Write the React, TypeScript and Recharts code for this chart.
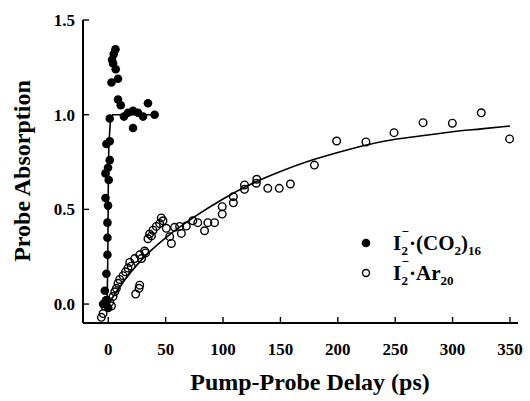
import {
  ComposedChart,
  Scatter,
  Line,
  XAxis,
  YAxis,
  Legend,
} from 'recharts';

// I2-(CO2)16 : filled circles [delay ps, absorption]
const co2Delay = [-4.5, -3, -2, 0, -1.6, -0.7, -0.7, -0.7, -0.2, -2.4, 0.4, -2.4, -0.2, 1.3, -1.6, 1.3, 1.3, 2.8, 3.3, 4.2, 4.8, 6.3, 6.5, 8.5, 8.5, 10.9, 13.7, 17.2, 21.6, 21.6, 25.9, 30.3, 34.6, 40.4];
const co2Abs = [0.0, 0.07, 0.02, -0.02, 0.16, 0.26, 0.35, 0.43, 0.52, 0.56, 0.655, 0.69, 0.72, 0.76, 0.845, 0.86, 0.98, 1.17, 1.29, 1.27, 1.32, 1.345, 1.24, 1.19, 1.08, 1.05, 0.99, 1.01, 1.02, 0.93, 1.01, 0.99, 1.06, 1.0];

// I2-Ar20 : open circles
const arDelay = [-6, -4.5, -3, -1, 1.3, 2.8, 4.2, 5.7, 7.1, 8.5, 10, 12.9, 15, 17.2, 18.7, 20, 23, 23.9, 26.8, 27.4, 27.4, 29, 31.7, 32.6, 34.6, 36, 37.6, 39, 41.9, 44.8, 46.2, 47.7, 50.6, 53.5, 55, 57.8, 62.2, 63.7, 68, 73.7, 78, 83.9, 86.8, 92.6, 99.3, 99.3, 109, 109, 118.7, 118.7, 129, 129.4, 139, 149, 158.7, 179.6, 199, 224.5, 249, 274.3, 299.8, 325, 349.7];
const arAbs = [-0.07, -0.05, -0.01, 0.02, 0.01, -0.01, 0.04, 0.065, 0.083, 0.11, 0.13, 0.15, 0.17, 0.19, 0.22, 0.2, 0.24, 0.053, 0.083, 0.1, 0.26, 0.24, 0.28, 0.27, 0.345, 0.37, 0.36, 0.39, 0.41, 0.425, 0.455, 0.44, 0.4, 0.356, 0.32, 0.405, 0.41, 0.373, 0.412, 0.44, 0.43, 0.387, 0.43, 0.43, 0.475, 0.514, 0.535, 0.567, 0.606, 0.629, 0.638, 0.659, 0.611, 0.611, 0.634, 0.734, 0.861, 0.856, 0.905, 0.958, 0.955, 1.01, 0.872];

// fitted curves
const co2FitDelay = [-1, -0.3, 0, 0.5, 2, 4, 40];
const co2FitAbs = [-0.02, 0.3, 0.6, 0.84, 0.98, 1.0, 1.0];
const arFitDelay = [0, 10, 20, 30, 50, 75, 100, 125, 150, 175, 200, 225, 250, 275, 300, 325, 350];
const arFitAbs = [0, 0.09, 0.17, 0.24, 0.35, 0.46, 0.555, 0.635, 0.7, 0.755, 0.8, 0.84, 0.87, 0.89, 0.91, 0.925, 0.94];

const xTicks = [0, 50, 100, 150, 200, 250, 300, 350];
const yTicks = [0, 0.5, 1.0, 1.5];

const zip = (xs: number[], ys: number[]) => xs.map((x, i) => ({ x, y: ys[i] }));

const co2Data = zip(co2Delay, co2Abs);
const arData = zip(arDelay, arAbs);
const co2Fit = zip(co2FitDelay, co2FitAbs);
const arFit = zip(arFitDelay, arFitAbs);

const FONT = 'Liberation Serif, serif';
const tickStyle = { fill: '#000', fontSize: 17, fontWeight: 'bold', fontFamily: FONT };

const FilledDot = (props: any) => <circle cx={props.cx} cy={props.cy} r={4.3} fill="#000" />;
const OpenDot = (props: any) => (
  <circle cx={props.cx} cy={props.cy} r={3.8} fill="#fff" fillOpacity={0} stroke="#000" strokeWidth={1.4} />
);

const NoTick = () => <g />;

const YTitle = () => (
  <text
    x={22}
    y={171}
    transform="rotate(-90 22 171)"
    textAnchor="middle"
    dominantBaseline="central"
    fontFamily={FONT}
    fontSize={24}
    fontWeight="bold"
    fill="#000"
  >
    Probe Absorption
  </text>
);

const XTitle = () => (
  <text
    x={310}
    y={382}
    textAnchor="middle"
    dominantBaseline="central"
    fontFamily={FONT}
    fontSize={24}
    fontWeight="bold"
    fill="#000"
  >
    Pump-Probe Delay (ps)
  </text>
);

// I2^- label drawn as svg text with stacked sub / superscript
const Formula = ({ y, rest, subs }: { y: number; rest: string[]; subs: boolean[] }) => {
  let dy = 0;
  return (
    <g fontFamily={FONT} fontWeight="bold" fill="#000">
      <text x={37} y={y} fontSize={21}>I</text>
      <text x={45.5} y={y + 5} fontSize={13}>2</text>
      <text x={45.5} y={y - 14} fontSize={13}>−</text>
      <text x={53} y={y} fontSize={21}>
        {rest.map((s, i) => {
          const target = subs[i] ? 5 : 0;
          const shift = target - dy;
          dy = target;
          return (
            <tspan key={i} dy={shift} fontSize={subs[i] ? 13 : 21}>
              {s}
            </tspan>
          );
        })}
      </text>
    </g>
  );
};

const LegendBox = () => (
  <svg width={170} height={72}>
    <circle cx={10} cy={23} r={4.3} fill="#000" />
    <Formula y={30} rest={['·(CO', '2', ')', '16']} subs={[false, true, false, true]} />
    <circle cx={10} cy={53} r={3.5} fill="none" stroke="#000" strokeWidth={1.4} />
    <Formula y={60} rest={['·Ar', '20']} subs={[false, true]} />
  </svg>
);

export default function App() {
  return (
    <div style={{ position: 'absolute', left: 0, top: 0, background: '#fff', fontFamily: FONT }}>
      <ComposedChart
        width={530}
        height={401}
        margin={{ top: 20, right: 12, bottom: 0, left: 0 }}
        style={{ fontFamily: FONT }}
      >
        <XAxis
          xAxisId="b"
          type="number"
          dataKey="x"
          domain={[-22, 357]}
          ticks={xTicks}
          allowDataOverflow
          height={78}
          axisLine={{ stroke: '#000', strokeWidth: 2 }}
          tickLine={{ stroke: '#000', strokeWidth: 1.4 }}
          tickSize={-6}
          tickMargin={26}
          tick={tickStyle}
          label={<XTitle />}
        />
        <XAxis
          xAxisId="t"
          orientation="top"
          type="number"
          dataKey="x"
          domain={[-22, 357]}
          ticks={xTicks}
          allowDataOverflow
          height={0}
          axisLine={{ stroke: '#000', strokeWidth: 2 }}
          tickLine={{ stroke: '#000', strokeWidth: 1.4 }}
          tickSize={-6}
          tick={NoTick}
        />
        <YAxis
          yAxisId="l"
          type="number"
          dataKey="y"
          domain={[-0.1, 1.5]}
          ticks={yTicks}
          allowDataOverflow
          width={83}
          axisLine={{ stroke: '#000', strokeWidth: 2 }}
          tickLine={{ stroke: '#000', strokeWidth: 1.4 }}
          tickSize={-6}
          tickMargin={14}
          tick={tickStyle}
          tickFormatter={(v: number) => v.toFixed(1)}
          label={<YTitle />}
        />
        <YAxis
          yAxisId="r"
          orientation="right"
          type="number"
          dataKey="y"
          domain={[-0.1, 1.5]}
          ticks={yTicks}
          allowDataOverflow
          width={0}
          axisLine={{ stroke: '#000', strokeWidth: 2 }}
          tickLine={{ stroke: '#000', strokeWidth: 1.4 }}
          tickSize={-6}
          tick={NoTick}
        />
        <Line
          xAxisId="b"
          yAxisId="l"
          data={arFit}
          dataKey="y"
          type="monotone"
          stroke="#000"
          strokeWidth={1.6}
          dot={false}
          isAnimationActive={false}
          legendType="none"
        />
        <Line
          xAxisId="b"
          yAxisId="l"
          data={co2Fit}
          dataKey="y"
          type="linear"
          stroke="#000"
          strokeWidth={1.6}
          dot={false}
          isAnimationActive={false}
          legendType="none"
        />
        <Scatter
          xAxisId="b"
          yAxisId="l"
          data={arData}
          dataKey="y"
          shape={OpenDot}
          isAnimationActive={false}
        />
        <Scatter
          xAxisId="b"
          yAxisId="l"
          data={co2Data}
          dataKey="y"
          shape={FilledDot}
          isAnimationActive={false}
        />
        <Legend
          layout="vertical"
          align="center"
          verticalAlign="middle"
          content={<LegendBox />}
          wrapperStyle={{ position: 'absolute', left: 356, top: 220, width: 170 }}
        />
      </ComposedChart>
    </div>
  );
}
